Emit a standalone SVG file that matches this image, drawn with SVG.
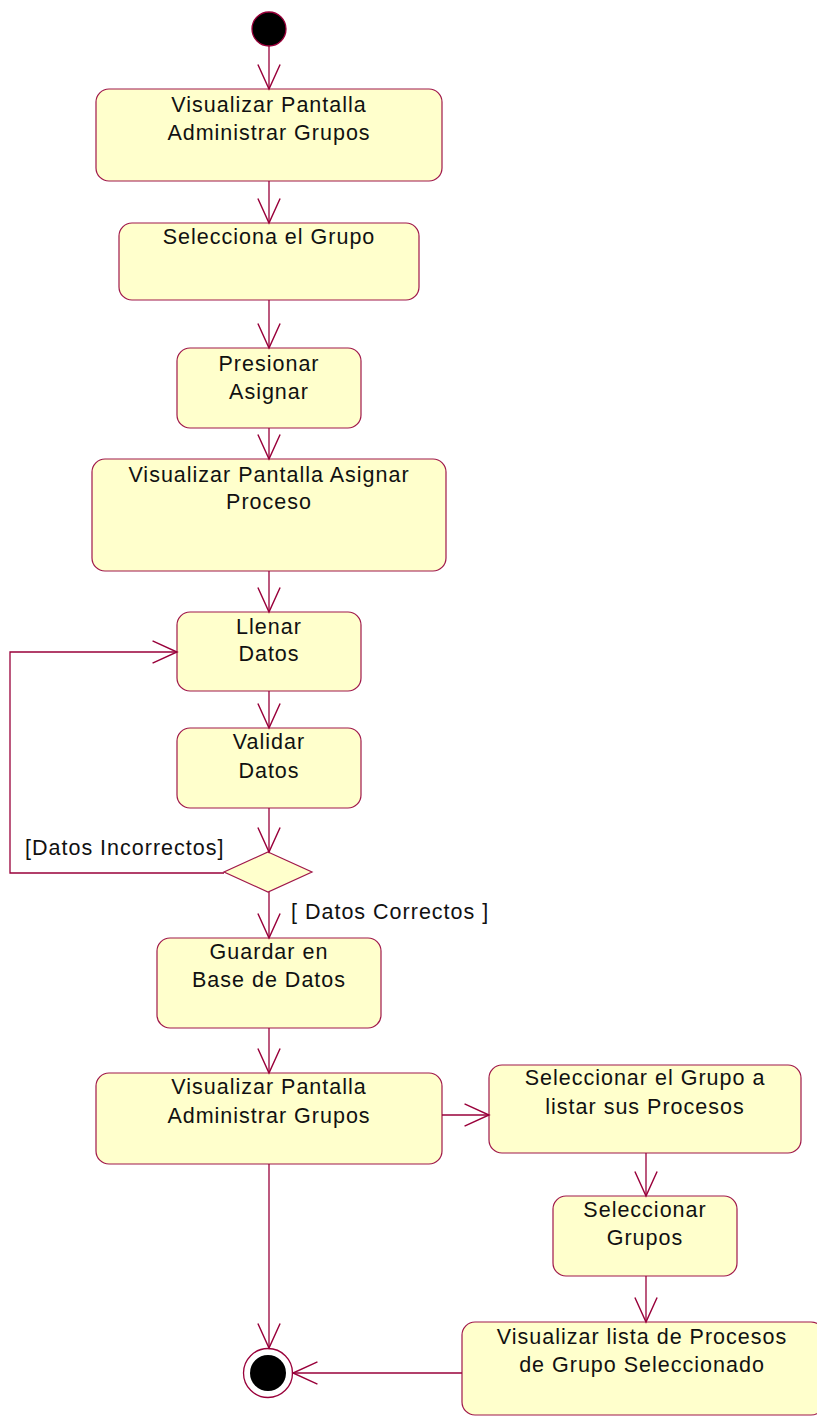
<svg xmlns="http://www.w3.org/2000/svg" width="817" height="1416" viewBox="0 0 817 1416">
<style>
.box{fill:#FFFFCC;stroke:#A0184A;stroke-width:1.2}
.t{font-family:"Liberation Sans",Arial,sans-serif;font-size:21.5px;fill:#111;letter-spacing:1px;text-anchor:middle}
.l{font-family:"Liberation Sans",Arial,sans-serif;font-size:21.5px;fill:#111;letter-spacing:1px}
.c{fill:none;stroke:#99003A;stroke-width:1.3}
</style>
<defs>
<marker id="arr" markerUnits="userSpaceOnUse" markerWidth="30" markerHeight="30" viewBox="-25 -12 27 24" refX="0" refY="0" orient="auto">
<path d="M-22,-10 L0,0 L-22,10" fill="none" stroke="#99003A" stroke-width="1.3"/>
</marker>
</defs>
<rect width="817" height="1416" fill="#fff"/>
<g id="start"><circle cx="269" cy="29" r="17" fill="#000" stroke="#99003A" stroke-width="1.3"/></g>
<g id="n1"><rect class="box" x="96" y="89" width="346" height="92" rx="13"/><text class="t" x="269" y="112">Visualizar Pantalla</text><text class="t" x="269" y="140">Administrar Grupos</text></g>
<g id="n2"><rect class="box" x="119" y="223" width="300" height="77" rx="13"/><text class="t" x="269" y="244">Selecciona el Grupo</text></g>
<g id="n3"><rect class="box" x="177" y="348" width="184" height="80" rx="13"/><text class="t" x="269" y="371">Presionar</text><text class="t" x="269" y="399">Asignar</text></g>
<g id="n4"><rect class="box" x="92" y="459" width="354" height="112" rx="13"/><text class="t" x="269" y="482">Visualizar Pantalla Asignar</text><text class="t" x="269" y="509">Proceso</text></g>
<g id="n5"><rect class="box" x="177" y="612" width="184" height="79" rx="13"/><text class="t" x="269" y="634">Llenar</text><text class="t" x="269" y="661">Datos</text></g>
<g id="n6"><rect class="box" x="177" y="728" width="184" height="80" rx="13"/><text class="t" x="269" y="749">Validar</text><text class="t" x="269" y="778">Datos</text></g>
<g id="decision"><polygon class="box" points="268,852 312,872 268,892 224,872"/></g>
<g id="n7"><rect class="box" x="157" y="938" width="224" height="90" rx="13"/><text class="t" x="269" y="959">Guardar en</text><text class="t" x="269" y="987">Base de Datos</text></g>
<g id="n8"><rect class="box" x="96" y="1073" width="346" height="91" rx="13"/><text class="t" x="269" y="1094">Visualizar Pantalla</text><text class="t" x="269" y="1123">Administrar Grupos</text></g>
<g id="n9"><rect class="box" x="489" y="1065" width="312" height="88" rx="13"/><text class="t" x="645" y="1085">Seleccionar el Grupo a</text><text class="t" x="645" y="1114">listar sus Procesos</text></g>
<g id="n10"><rect class="box" x="553" y="1196" width="184" height="80" rx="13"/><text class="t" x="645" y="1217">Seleccionar</text><text class="t" x="645" y="1245">Grupos</text></g>
<g id="n11"><rect class="box" x="462" y="1322" width="362" height="93" rx="13"/><text class="t" x="642" y="1344">Visualizar lista de Procesos</text><text class="t" x="642" y="1372">de Grupo Seleccionado</text></g>
<g id="end"><circle cx="268" cy="1373" r="24.5" fill="#fff" stroke="#99003A" stroke-width="1.3"/><circle cx="268" cy="1373" r="18" fill="#000"/></g>
<g id="connectors">
<line class="c" x1="269" y1="46" x2="269" y2="89" marker-end="url(#arr)"/>
<line class="c" x1="269" y1="181" x2="269" y2="223" marker-end="url(#arr)"/>
<line class="c" x1="269" y1="300" x2="269" y2="348" marker-end="url(#arr)"/>
<line class="c" x1="269" y1="428" x2="269" y2="459" marker-end="url(#arr)"/>
<line class="c" x1="269" y1="571" x2="269" y2="612" marker-end="url(#arr)"/>
<line class="c" x1="269" y1="691" x2="269" y2="728" marker-end="url(#arr)"/>
<line class="c" x1="269" y1="808" x2="269" y2="852" marker-end="url(#arr)"/>
<polyline class="c" points="224,873 10,873 10,652 177,652" marker-end="url(#arr)"/>
<line class="c" x1="269" y1="892" x2="269" y2="938" marker-end="url(#arr)"/>
<line class="c" x1="269" y1="1028" x2="269" y2="1073" marker-end="url(#arr)"/>
<line class="c" x1="442" y1="1115" x2="489" y2="1115" marker-end="url(#arr)"/>
<line class="c" x1="646" y1="1153" x2="646" y2="1196" marker-end="url(#arr)"/>
<line class="c" x1="646" y1="1276" x2="646" y2="1322" marker-end="url(#arr)"/>
<line class="c" x1="462" y1="1373" x2="293" y2="1373" marker-end="url(#arr)"/>
<line class="c" x1="269" y1="1164" x2="269" y2="1348" marker-end="url(#arr)"/>
<text class="l" x="25" y="855">[Datos Incorrectos]</text>
<text class="l" x="291" y="919">[ Datos Correctos ]</text>
</g>
</svg>
